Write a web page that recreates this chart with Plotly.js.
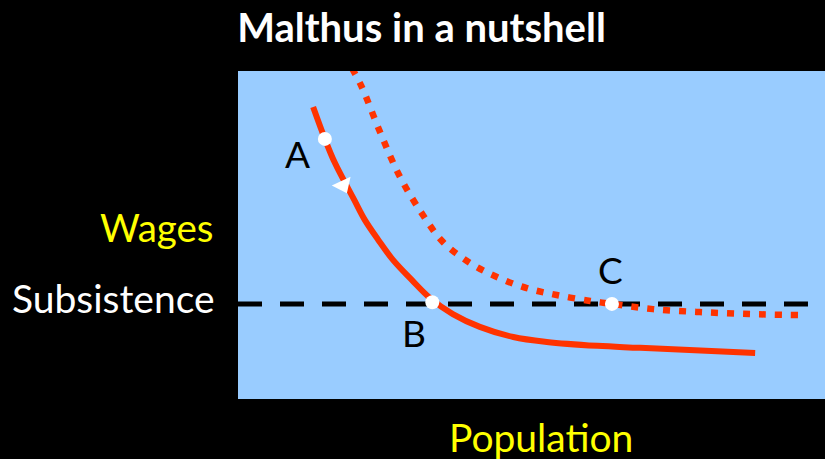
<!DOCTYPE html>
<html>
<head>
<meta charset="utf-8">
<script src="https://cdn.plot.ly/plotly-3.0.1.min.js"></script>
<style>html,body{margin:0;padding:0;background:#000;}#chart{width:825px;height:459px;}</style>
</head>
<body>
<div id="chart"></div>
<script>
// Solid curve (wages falling as population rises): A -> B
const solidX = [1.28, 1.48, 1.65, 1.98, 2.16, 2.39, 2.64, 2.96, 3.27, 3.66, 4.12, 4.69, 5.26, 6.12, 6.85, 8.81];
const solidY = [8.90, 7.93, 7.20, 6.07, 5.46, 4.85, 4.24, 3.63, 3.08, 2.59, 2.20, 1.89, 1.74, 1.62, 1.56, 1.40];
// Dotted curve (shifted after technology improvement) through C
const dottedX = [1.94, 2.11, 2.42, 2.76, 3.15, 3.49, 3.95, 4.41, 4.92, 5.43, 6.00, 6.37, 7.07, 7.87, 8.72, 9.54];
const dottedY = [10.09, 9.51, 8.14, 6.77, 5.61, 4.79, 4.15, 3.72, 3.38, 3.17, 2.99, 2.90, 2.74, 2.65, 2.59, 2.56];
// Subsistence level
const subsistence = 2.9;
const subsistenceX = [0, 9.71];
// Labelled points
const pointLabels = ['A', 'B', 'C'];
const pointX = [1.48, 3.31, 6.37];
const pointY = [7.93, 2.95, 2.90];
// Label positions
const labelX = [1.01, 3.00, 6.35];
const labelY = [7.49, 2.04, 3.96];
// Arrow on solid curve
const arrowX = [1.79];
const arrowY = [6.52];

const red = '#FF3300';
const font = 'Lato, "Open Sans", sans-serif';

const traces = [
  {x: subsistenceX, y: subsistenceX.map(() => subsistence), mode: 'lines', line: {color: '#000', width: 5, dash: '24px,18px'}, hoverinfo: 'skip'},
  {x: solidX, y: solidY, mode: 'lines', line: {color: red, width: 6, shape: 'spline', smoothing: 1}, hoverinfo: 'skip'},
  {x: dottedX, y: dottedY, mode: 'lines', line: {color: red, width: 6.5, shape: 'spline', smoothing: 1, dash: '7px,9px'}, hoverinfo: 'skip'},
  {x: pointX, y: pointY, mode: 'markers', marker: {color: '#fff', size: 14, line: {width: 0}}, hoverinfo: 'skip'},
  {x: arrowX, y: arrowY, mode: 'markers', marker: {color: '#fff', size: 18, symbol: 'triangle-down', angle: -25, line: {width: 0}}, hoverinfo: 'skip'}
];

const annotations = pointLabels.map((t, i) => ({
  text: t, x: labelX[i], y: labelY[i], xref: 'x', yref: 'y', showarrow: false,
  xanchor: 'center', yanchor: 'middle', font: {family: font, size: 37, color: '#000'}
}));
annotations.push(
  {text: 'Wages', x: 216, y: 227, xref: 'paper', yref: 'paper', showarrow: false, xanchor: 'right', yanchor: 'middle', font: {family: font, size: 38.5, color: '#FFFF00'}},
  {text: 'Subsistence', x: 217, y: 298, xref: 'paper', yref: 'paper', showarrow: false, xanchor: 'right', yanchor: 'middle', font: {family: font, size: 39, color: '#FFFFFF'}},
  {text: 'Population', x: 541, y: 437, xref: 'paper', yref: 'paper', showarrow: false, xanchor: 'center', yanchor: 'middle', font: {family: font, size: 39, color: '#FFFF00'}}
);
// convert pixel-positioned paper annotations to paper fractions
const L = 238, R = 0, T = 71, B = 60, W = 825, H = 459;
const pw = W - L - R, ph = H - T - B;
annotations.forEach(a => {
  if (a.xref === 'paper') {
    a.x = (a.x - L) / pw;
    a.y = (H - B - a.y) / ph;
  }
});

const layout = {
  width: W, height: H,
  paper_bgcolor: '#000', plot_bgcolor: '#99CCFF',
  margin: {l: L, r: R, t: T, b: B, pad: 0},
  showlegend: false,
  title: {text: '<b>Malthus in a nutshell</b>', x: 421.5 / W, xanchor: 'center', xref: 'container', y: 1 - 28 / H, yanchor: 'middle', yref: 'container', font: {family: font, size: 40, color: '#fff'}},
  xaxis: {range: [0, 10], showgrid: false, zeroline: false, showticklabels: false, showline: false, ticks: '', fixedrange: true},
  yaxis: {range: [0, 10], showgrid: false, zeroline: false, showticklabels: false, showline: false, ticks: '', fixedrange: true},
  annotations: annotations
};

Plotly.newPlot('chart', traces, layout, {displayModeBar: false, staticPlot: true});
</script>
</body>
</html>
